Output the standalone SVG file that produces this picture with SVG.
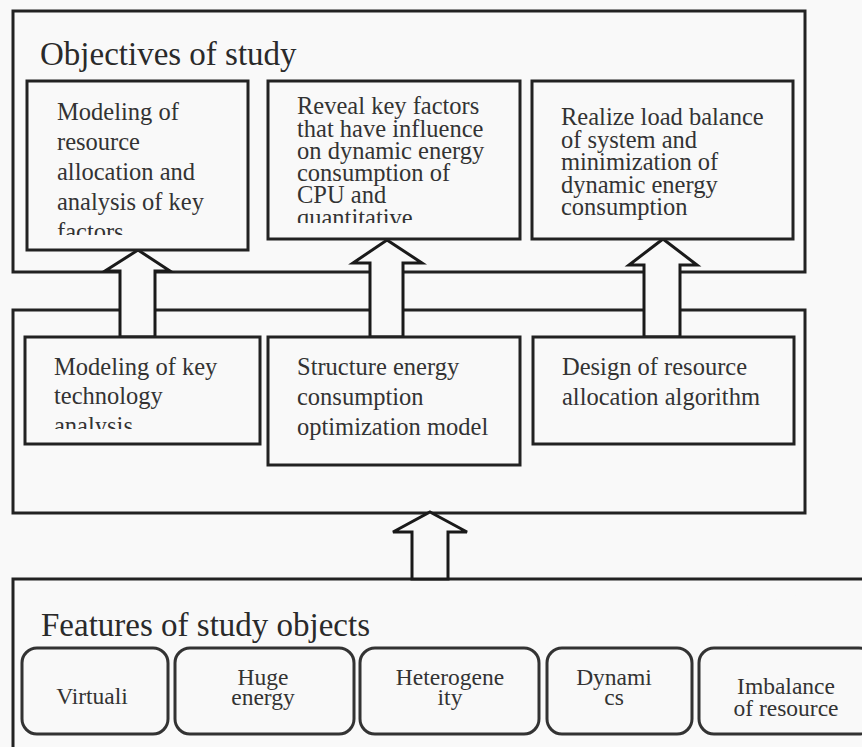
<svg xmlns="http://www.w3.org/2000/svg" width="862" height="747" viewBox="0 0 862 747">
<defs>
<style>
.frame{fill:#f9f9f9;stroke:#222;stroke-width:3}
.box{fill:#f9f9f9;stroke:#222;stroke-width:3}
.rbox{fill:#f9f9f9;stroke:#333;stroke-width:3}
.arrow{fill:#f9f9f9;stroke:#1a1a1a;stroke-width:3;stroke-linejoin:miter}
.t{font-family:"Liberation Serif","Times New Roman",serif;font-size:24.5px;fill:#333}
.title{font-family:"Liberation Serif","Times New Roman",serif;font-size:33px;fill:#2a2a2a}
.c{text-anchor:middle;font-size:23.5px}
</style>
<clipPath id="clipA"><rect x="27" y="81" width="220" height="154"/></clipPath>
<clipPath id="clipB"><rect x="268" y="81" width="252" height="142"/></clipPath>
<clipPath id="clipD"><rect x="25" y="337" width="235" height="92"/></clipPath>
</defs>
<rect x="0" y="0" width="862" height="747" fill="#f9f9f9"/>

<g id="objectives">
<rect class="frame" x="13" y="11" width="792" height="261"/>
<text class="title" x="40" y="65">Objectives of study</text>
</g>
<g id="methods">
<rect class="frame" x="13" y="310" width="792" height="203"/>
</g>
<g id="features">
<path class="frame" d="M 13 760 L 13 579 L 875 579"/>
<text class="title" x="41" y="636">Features of study objects</text>
</g>

<g id="connectors">
<path class="arrow" d="M 138 250 L 170 271 L 155 271 L 155 337 L 120 337 L 120 271 L 105 271 Z"/>
<path class="arrow" d="M 387 240 L 422 263 L 403 263 L 403 337 L 370 337 L 370 263 L 353 263 Z"/>
<path class="arrow" d="M 663 239 L 697 265 L 680 265 L 680 337 L 644 337 L 644 265 L 629 265 Z"/>
<path class="arrow" d="M 430 512 L 467 532 L 448 532 L 448 579 L 412 579 L 412 532 L 393 532 Z"/>
</g>

<g id="objA">
<rect class="box" x="27" y="81" width="221" height="169"/>
<g clip-path="url(#clipA)">
<text class="t" x="57" y="120">Modeling of</text>
<text class="t" x="57" y="150">resource</text>
<text class="t" x="57" y="180">allocation and</text>
<text class="t" x="57" y="210">analysis of key</text>
<text class="t" x="57" y="240">factors</text>
</g>
</g>
<g id="objB">
<rect class="box" x="268" y="81" width="252" height="158"/>
<g clip-path="url(#clipB)">
<text class="t" x="297" y="114">Reveal key factors</text>
<text class="t" x="297" y="136.5">that have influence</text>
<text class="t" x="297" y="159">on dynamic energy</text>
<text class="t" x="297" y="181">consumption of</text>
<text class="t" x="297" y="203">CPU and</text>
<text class="t" x="297" y="226">quantitative</text>
</g>
</g>
<g id="objC">
<rect class="box" x="532" y="81" width="261" height="158"/>
<text class="t" x="561" y="125">Realize load balance</text>
<text class="t" x="561" y="147.5">of system and</text>
<text class="t" x="561" y="170">minimization of</text>
<text class="t" x="561" y="192.5">dynamic energy</text>
<text class="t" x="561" y="215">consumption</text>
</g>

<g id="methD">
<rect class="box" x="25" y="337" width="235" height="107"/>
<g clip-path="url(#clipD)">
<text class="t" x="54" y="375">Modeling of key</text>
<text class="t" x="54" y="404">technology</text>
<text class="t" x="54" y="434">analysis</text>
</g>
</g>
<g id="methE">
<rect class="box" x="268" y="337" width="252" height="128"/>
<text class="t" x="297" y="375">Structure energy</text>
<text class="t" x="297" y="405">consumption</text>
<text class="t" x="297" y="435">optimization model</text>
</g>
<g id="methF">
<rect class="box" x="533" y="337" width="261" height="107"/>
<text class="t" x="562" y="375">Design of resource</text>
<text class="t" x="562" y="405">allocation algorithm</text>
</g>

<g id="f1">
<rect class="rbox" x="22" y="648" width="146" height="86" rx="15"/>
<text class="t c" x="92" y="704">Virtuali</text>
</g>
<g id="f2">
<rect class="rbox" x="175" y="648" width="179" height="86" rx="15"/>
<text class="t c" x="263" y="685">Huge</text>
<text class="t c" x="263" y="705">energy</text>
</g>
<g id="f3">
<rect class="rbox" x="360" y="648" width="179" height="86" rx="15"/>
<text class="t c" x="450" y="685">Heterogene</text>
<text class="t c" x="450" y="705">ity</text>
</g>
<g id="f4">
<rect class="rbox" x="547" y="648" width="145" height="86" rx="15"/>
<text class="t c" x="614" y="685">Dynami</text>
<text class="t c" x="614" y="705">cs</text>
</g>
<g id="f5">
<rect class="rbox" x="699" y="648" width="175" height="86" rx="15"/>
<text class="t c" x="786" y="694">Imbalance</text>
<text class="t c" x="786" y="716">of resource</text>
</g>
</svg>
